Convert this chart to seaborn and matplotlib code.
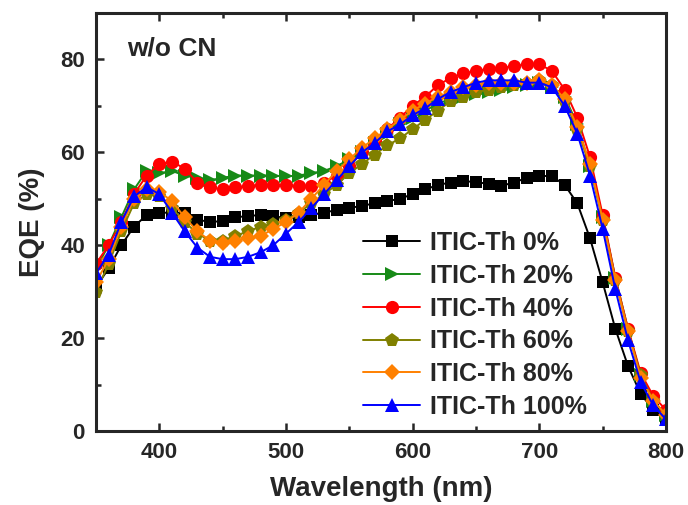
import numpy as np
import pandas as pd
import matplotlib
matplotlib.use("Agg")
import matplotlib.pyplot as plt
from matplotlib.ticker import MultipleLocator
import seaborn as sns

wavelength = list(range(350, 801, 10))

eqe_0 = [31, 35, 40, 44, 46.5, 47, 47, 47, 45.5, 45, 45.2, 46, 46.3, 46.5, 46.3, 45.8,
         46, 46.6, 47, 47.6, 48, 48.5, 49, 49.5, 50, 51, 52, 53, 53.5, 53.8, 53.6, 53.2,
         52.8, 53.5, 54.5, 55, 54.8, 53, 49, 41.5, 32, 22, 14, 8, 4.5, 2.5]
eqe_20 = [35, 40, 46, 52, 56, 55.5, 56, 55, 54.5, 54, 54.5, 55, 55, 55, 55, 54.8,
          55, 55.5, 56, 57, 58.5, 60, 62, 64, 66, 67.5, 69, 70.5, 71.5, 72, 72.5, 73,
          73.5, 74, 74.5, 75, 74, 72, 66, 57, 46, 33, 22, 12, 6.5, 3.5]
eqe_40 = [36, 40, 45, 51, 55, 57.5, 58, 56.5, 53.5, 52.5, 52, 52.5, 52.7, 53, 53, 53,
          52.7, 52.8, 53.5, 55, 57, 60, 62.5, 65, 67.5, 70, 72, 74.5, 76, 77, 77.5, 78,
          78.2, 78.5, 79, 79, 77.5, 73.5, 67.5, 59, 46.5, 33, 22, 12.5, 7.5, 4.5]
eqe_60 = [30, 36, 43, 49, 51, 50.5, 48, 45, 42.5, 41, 41, 42, 43, 44, 44.5, 45.5,
          47, 49, 51, 53, 55.5, 57.5, 59.5, 61.5, 63, 65, 67, 69, 71, 72, 73, 73.5,
          74, 74.5, 75, 75.5, 74.5, 71, 65, 57, 45.5, 32.5, 21.5, 12, 6.5, 3.5]
eqe_80 = [32, 37, 44, 50, 52, 51.5, 49.5, 46, 43, 41, 40.5, 41, 41.5, 42, 43.5, 45,
          47, 50, 53, 56, 58.5, 61, 63, 65, 67, 69, 70.5, 72, 73, 74, 74.5, 75,
          75, 75, 75, 75.5, 74.5, 71.5, 65.5, 57.5, 45.5, 32.5, 21.5, 11.5, 6.5, 3.5]
eqe_100 = [34, 38, 45, 50.5, 52.5, 51, 47, 43, 39.5, 37.5, 37, 37, 37.5, 38.5, 40, 42.5,
           45, 48, 51, 54, 57, 60, 62, 64.5, 66, 68, 69.5, 71.5, 73, 74, 75, 75.5,
           75.5, 75.5, 75, 75, 74, 70, 64, 55, 43.5, 30.5, 19.5, 10.5, 5.5, 2.5]

labels = ["ITIC-Th 0%", "ITIC-Th 20%", "ITIC-Th 40%", "ITIC-Th 60%",
          "ITIC-Th 80%", "ITIC-Th 100%"]
series = [eqe_0, eqe_20, eqe_40, eqe_60, eqe_80, eqe_100]
colors = ["#000000", "#178A17", "#FF0000", "#808000", "#FF8000", "#0000FF"]
markers = ["s", ">", "o", "p", "D", "^"]
msizes = [8, 9.5, 9.5, 10, 8, 10]

frames = []
for lab, vals in zip(labels, series):
    frames.append(pd.DataFrame({"Wavelength": wavelength, "EQE": vals, "Sample": lab}))
df = pd.concat(frames, ignore_index=True)

sns.set_style("ticks")
plt.rcParams["font.family"] = ["Liberation Sans", "DejaVu Sans"]
plt.rcParams["font.weight"] = "bold"

fig = plt.figure(figsize=(6.88, 5.05), dpi=100)
ax = fig.add_axes([96 / 688, 1 - 431 / 505, 570 / 688, 418 / 505])

for lab, col, mk, ms in zip(labels, colors, markers, msizes):
    sub = df[df["Sample"] == lab]
    sns.lineplot(data=sub, x="Wavelength", y="EQE", ax=ax, color=col, marker=mk,
                 markersize=ms, markeredgewidth=0, linewidth=1.4, label=lab,
                 legend=False)

ax.set_xlim(350, 800)
ax.set_ylim(0, 90)
ax.xaxis.set_major_locator(MultipleLocator(100))
ax.xaxis.set_minor_locator(MultipleLocator(50))
ax.yaxis.set_major_locator(MultipleLocator(20))
ax.yaxis.set_minor_locator(MultipleLocator(10))
ax.tick_params(which="both", direction="in", top=True, right=False, labelsize=16,
               width=1.8)
ax.tick_params(which="major", length=6, pad=8)
ax.tick_params(which="minor", length=3.5)
for lbl in ax.get_xticklabels() + ax.get_yticklabels():
    lbl.set_fontweight("bold")
for sp in ax.spines.values():
    sp.set_linewidth(2.2)
    sp.set_visible(True)

ax.set_xlabel("Wavelength (nm)", fontsize=20, fontweight="bold", labelpad=9)
ax.set_ylabel("EQE (%)", fontsize=20, fontweight="bold", labelpad=11)

ax.text(0.055, 0.915, "w/o CN", transform=ax.transAxes, fontsize=19,
        fontweight="bold", va="center", ha="left")

handles, labs = ax.get_legend_handles_labels()
leg = ax.legend(handles, labs, loc="lower left", bbox_to_anchor=(0.442, -0.007),
                frameon=False, prop={"size": 18, "weight": "bold"},
                handlelength=2.3, handletextpad=0.4, labelspacing=0.35,
                borderaxespad=0.2)

fig.savefig("out.png", dpi=100)
